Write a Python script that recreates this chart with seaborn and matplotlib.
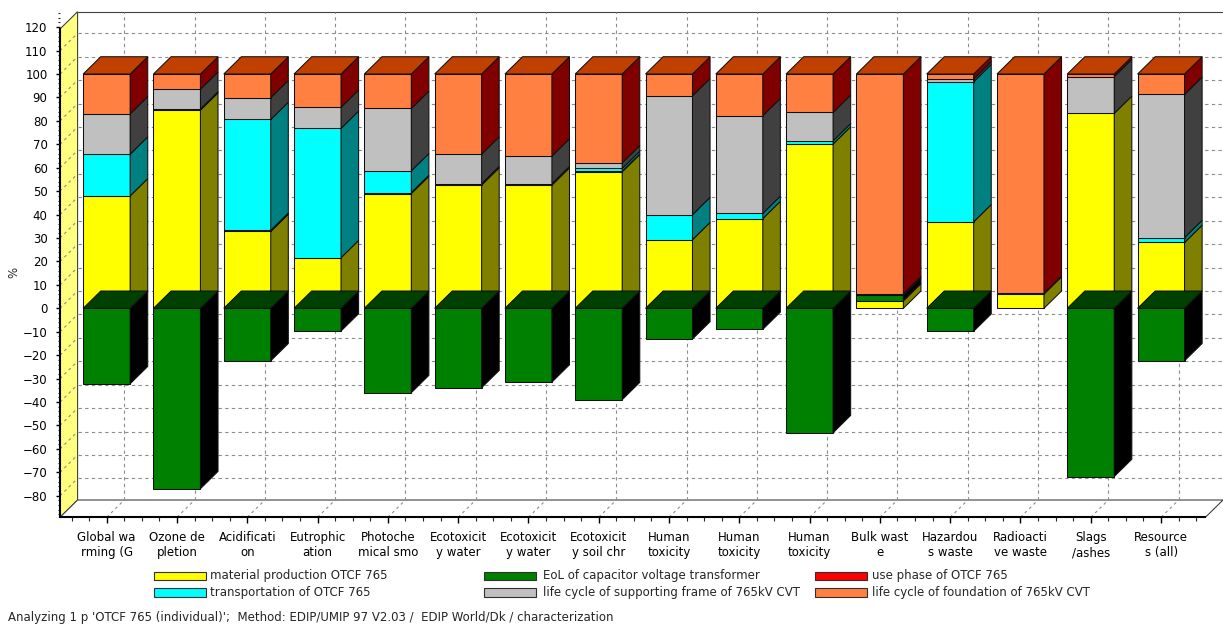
import numpy as np
import pandas as pd
import matplotlib
matplotlib.use("Agg")
import matplotlib.pyplot as plt
from matplotlib.patches import Polygon, Rectangle
from matplotlib.ticker import MultipleLocator
import seaborn as sns

# ---- data (percent of the positive total per impact category) ----
categories = [
    "Global wa\nrming (G", "Ozone de\npletion", "Acidificati\non", "Eutrophic\nation",
    "Photoche\nmical smo", "Ecotoxicit\ny water", "Ecotoxicit\ny water", "Ecotoxicit\ny soil chr",
    "Human\ntoxicity", "Human\ntoxicity", "Human\ntoxicity", "Bulk wast\ne",
    "Hazardou\ns waste", "Radioacti\nve waste", "Slags\n/ashes", "Resource\ns (all)",
]
material_production = [48.0, 84.6, 32.8, 21.6, 49.0, 52.6, 52.6, 58.3, 29.3, 38.3, 70.1, 3.2, 36.9, 6.1, 83.2, 28.1]
eol_cvt = [-32.2, -77.0, -22.4, -9.7, -36.0, -33.9, -31.5, -39.0, -13.1, -9.0, -53.1, 2.4, -9.8, 0.0, -71.8, -22.4]
use_phase = [0.0, 0.5, 0.5, 0.0, 0.4, 0.6, 0.6, 0.2, 0.0, 0.0, 0.0, 0.6, 0.0, 0.3, 0.0, 0.0]
transportation = [17.8, 0.0, 47.3, 55.2, 9.3, 0.0, 0.0, 1.2, 10.7, 2.2, 1.4, 0.0, 59.8, 0.0, 0.0, 2.1]
supporting_frame = [17.2, 8.4, 9.3, 9.0, 26.6, 12.6, 11.8, 2.4, 50.7, 41.7, 12.1, 0.0, 1.2, 0.0, 15.7, 61.1]
foundation = [17.0, 6.5, 10.1, 14.2, 14.7, 34.2, 35.0, 37.9, 9.3, 17.8, 16.4, 93.8, 2.1, 93.6, 1.1, 8.7]

series_labels = [
    "material production OTCF 765",
    "EoL of capacitor voltage transformer",
    "use phase of OTCF 765",
    "transportation of OTCF 765",
    "life cycle of supporting frame of 765kV CVT",
    "life cycle of foundation of 765kV CVT",
]
series_values = [material_production, eol_cvt, use_phase, transportation, supporting_frame, foundation]

# front / side / top shades of each series
shades = {
    series_labels[0]: ("#FFFF00", "#808000", "#C0C000"),
    series_labels[1]: ("#008000", "#000000", "#004000"),
    series_labels[2]: ("#FF0000", "#800000", "#C00000"),
    series_labels[3]: ("#00FFFF", "#008080", "#00C0C0"),
    series_labels[4]: ("#C0C0C0", "#404040", "#909090"),
    series_labels[5]: ("#FF8040", "#800000", "#C04000"),
}

footer = "Analyzing 1 p 'OTCF 765 (individual)';  Method: EDIP/UMIP 97 V2.03 /  EDIP World/Dk / characterization"

# ---- figure geometry ----
W, H = 1223, 626
sns.set_theme(style="white")
plt.rcParams["font.family"] = ["DejaVu Sans"]
plt.rcParams["font.size"] = 8

fig = plt.figure(figsize=(W / 100, H / 100), dpi=100)
L, R, T, B = 60, 1223, 11.7, 517.3
ax = fig.add_axes([L / W, (H - B) / H, (R - L) / W, (B - T) / H])
ax.set_facecolor("white")

XMIN, XMAX = -0.664, 15.881
YMIN, YMAX = -89.2, 126.6
DX, DY = 0.250, 7.38          # depth offset of the 3-D projection (data units)
BAR_W = 0.668
EDGE = dict(edgecolor="#101010", linewidth=0.75)

n = len(categories)
xpos = np.arange(n)

# ---- walls, floor and grid ----
wall_front_top = YMAX - DY
ax.add_patch(Polygon([(XMIN, YMIN), (XMIN + DX, YMIN + DY), (XMIN + DX, YMAX), (XMIN, wall_front_top)],
                     closed=True, facecolor="#FFFF80", edgecolor="#404040", linewidth=0.8, zorder=0.5, clip_on=False))
floor_right = XMAX - DX
ax.add_patch(Polygon([(XMIN, YMIN), (floor_right, YMIN), (XMAX, YMIN + DY), (XMIN + DX, YMIN + DY)],
                     closed=True, facecolor="white", edgecolor="#404040", linewidth=0.8, zorder=0.5, clip_on=False))
ax.plot([XMIN + DX, XMAX], [YMAX, YMAX], color="#404040", lw=0.8, zorder=0.6, clip_on=False)

grid_kw = dict(color="#8C8C8C", lw=0.8, ls=(0, (3, 3)), zorder=0.7)
slant_kw = dict(color="#8C8C8C", lw=0.8, ls=(0, (2.5, 3)), zorder=0.7)
for v in range(-80, 120, 10):
    ax.plot([XMIN + DX, XMAX], [v + DY, v + DY], **grid_kw)
    ax.plot([XMIN, XMIN + DX], [v, v + DY], **slant_kw)
for i in xpos:
    ax.plot([i + DX, i + DX], [YMIN + DY, YMAX], **grid_kw)
    ax.plot([i, i + DX], [YMIN, YMIN + DY], **slant_kw)

# ---- stacked 3-D bars ----
pos_base = np.zeros(n)
neg_base = np.zeros(n)
top_face = [None] * n      # top face of the highest positive segment
neg_face = [None] * n      # top face of the negative bar at zero
for name, vals in zip(series_labels, series_values):
    vals = np.asarray(vals, dtype=float)
    bottom = np.where(vals >= 0, pos_base, neg_base)
    df = pd.DataFrame({"cat": xpos, "val": vals})
    front, side, top = shades[name]
    sns.barplot(data=df, x="cat", y="val", bottom=bottom, color=front, saturation=1,
                width=BAR_W, errorbar=None, ax=ax, zorder=3, **EDGE)
    cont = ax.containers[-1]
    for i, rect in enumerate(cont):
        if vals[i] == 0:
            rect.set_visible(False)
            continue
        x0 = rect.get_x()
        x1 = x0 + rect.get_width()
        y0 = rect.get_y()
        y1 = y0 + rect.get_height()
        lo, hi = min(y0, y1), max(y0, y1)
        ax.add_patch(Polygon([(x1, lo), (x1 + DX, lo + DY), (x1 + DX, hi + DY), (x1, hi)],
                             closed=True, facecolor=side, zorder=3, **EDGE))
        if vals[i] > 0:
            top_face[i] = (x0, x1, hi, top)
        elif neg_face[i] is None:
            neg_face[i] = (x0, x1, hi, top)
    pos_base += np.where(vals > 0, vals, 0)
    neg_base += np.where(vals < 0, vals, 0)

for face in top_face + neg_face:
    if face is None:
        continue
    x0, x1, y, col = face
    ax.add_patch(Polygon([(x0, y), (x0 + DX, y + DY), (x1 + DX, y + DY), (x1, y)],
                         closed=True, facecolor=col, zorder=4, **EDGE))

# ---- axes, ticks and labels ----
ax.set_xlim(XMIN, XMAX)
ax.set_ylim(YMIN, YMAX)
for s in ["top", "right"]:
    ax.spines[s].set_visible(False)
ax.spines["left"].set_bounds(YMIN, wall_front_top)
ax.spines["left"].set_color("black")
ax.spines["left"].set_linewidth(1.5)
ax.spines["bottom"].set_bounds(XMIN, floor_right)
ax.spines["bottom"].set_color("black")
ax.spines["bottom"].set_linewidth(1.5)

ax.set_yticks(np.arange(-80, 121, 10))
ax.yaxis.set_minor_locator(MultipleLocator(2))
ax.tick_params(axis="y", which="major", left=True, length=3, width=1, pad=6, labelsize=8.5, colors="black")
ax.tick_params(axis="y", which="minor", left=True, length=1.5, width=0.8)
ax.set_xticks(xpos)
ax.set_xticklabels(categories)
ax.set_xticks(np.arange(XMIN + 0.164, floor_right, 0.25), minor=True)
ax.tick_params(axis="x", which="major", bottom=True, length=4, width=1, pad=6, labelsize=8.5, colors="black")
ax.tick_params(axis="x", which="minor", bottom=True, length=3, width=0.8)
ax.set_xlabel("")
ax.set_ylabel("")
ax.grid(False)

def fx(px):
    return px / W

def fy(py):
    return 1 - py / H

fig.text(fx(14), fy(272), "%", rotation=90, ha="center", va="center", fontsize=8.5)

# ---- legend ----
legend_cols = [(154, 210), (484, 543), (815, 872)]
legend_rows = [575.9, 592.5]
legend_order = [0, 3, 1, 4, 2, 5]
for k, idx in enumerate(legend_order):
    (sx, tx) = legend_cols[k // 2]
    cy = legend_rows[k % 2]
    name = series_labels[idx]
    fig.add_artist(Rectangle((fx(sx), fy(cy + 4.2)), fx(52), 8.4 / H, transform=fig.transFigure,
                             facecolor=shades[name][0], edgecolor="#303030", linewidth=0.8))
    fig.text(fx(tx), fy(cy), name, ha="left", va="center", fontsize=8.5)

fig.text(fx(8), fy(617), footer, ha="left", va="center", fontsize=8.5)

fig.savefig("out.png", dpi=100, facecolor="white")
